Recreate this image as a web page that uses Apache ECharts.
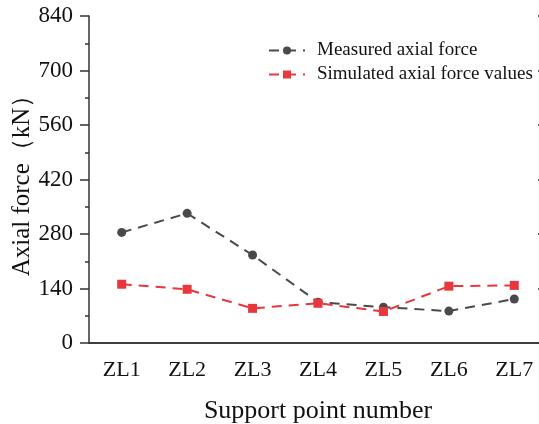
<!DOCTYPE html>
<html>
<head>
<meta charset="utf-8">
<script src="https://cdn.jsdelivr.net/npm/echarts@6/dist/echarts.min.js"></script>
<style>html,body{margin:0;padding:0;background:#fff}#c{width:539px;height:424px}</style>
</head>
<body>
<div id="c"></div>
<script>
var categories = ['ZL1','ZL2','ZL3','ZL4','ZL5','ZL6','ZL7'];
var measured = [284, 333, 226, 105, 92, 82, 113];
var simulated = [151, 138, 89, 102, 81, 146, 148];
var yTicks = [0, 140, 280, 420, 560, 700, 840];
var seriesNames = ['Measured axial force', 'Simulated axial force values'];

var font = 'Liberation Serif, Times New Roman, serif';
var axisColor = '#333';
var chart = echarts.init(document.getElementById('c'));
chart.setOption({
  animation: false,
  grid: {left: 89, top: 16, right: -8, bottom: 81, containLabel: false, outerBoundsMode: 'none'},
  legend: {
    orient: 'vertical', left: 263, top: 36,
    itemWidth: 36, itemHeight: 10, itemGap: 5,
    textStyle: {fontFamily: font, fontSize: 19, color: '#111', padding: [0, 0, 0, 7]},
    data: seriesNames
  },
  xAxis: [{
    type: 'category', data: categories, position: 'bottom',
    name: 'Support point number', nameLocation: 'middle', nameGap: 55, nameMoveOverlap: false,
    nameTextStyle: {fontFamily: font, fontSize: 26, color: '#111'},
    axisLine: {lineStyle: {color: axisColor, width: 1.5}},
    axisTick: {alignWithLabel: true, length: 6, lineStyle: {color: axisColor, width: 1.5}},
    axisLabel: {fontFamily: font, fontSize: 22, color: '#111', margin: 16}
  }, {
    type: 'category', data: categories, position: 'top',
    axisLine: {lineStyle: {color: axisColor, width: 1.5}},
    axisTick: {inside: true, alignWithLabel: true, length: 8, lineStyle: {color: axisColor, width: 1.5}},
    axisLabel: {show: false}
  }],
  yAxis: [{
    type: 'value', min: yTicks[0], max: yTicks[yTicks.length-1], interval: 140,
    name: 'Axial force（kN）', nameLocation: 'middle', nameGap: 54, nameRotate: 90, nameMoveOverlap: false,
    nameTextStyle: {fontFamily: font, fontSize: 25, color: '#111'},
    axisLine: {show: true, lineStyle: {color: axisColor, width: 1.5}},
    axisTick: {show: true, length: 9, lineStyle: {color: axisColor, width: 1.5}},
    minorTick: {show: true, splitNumber: 2, length: 4, lineStyle: {color: axisColor, width: 1.5}},
    splitLine: {show: false},
    axisLabel: {fontFamily: font, fontSize: 23, color: '#111', margin: 16}
  }, {
    type: 'value', min: yTicks[0], max: yTicks[yTicks.length-1], interval: 140, position: 'right',
    axisLine: {show: true, lineStyle: {color: axisColor, width: 1.5}},
    axisTick: {show: true, inside: true, length: 9, lineStyle: {color: axisColor, width: 1.5}},
    splitLine: {show: false},
    axisLabel: {show: false}
  }],
  series: [{
    name: seriesNames[0], type: 'line', data: measured,
    symbol: 'circle', symbolSize: 9,
    itemStyle: {color: '#4a4a4a'},
    lineStyle: {color: '#4a4a4a', width: 2, type: [10, 7]}
  }, {
    name: seriesNames[1], type: 'line', data: simulated,
    symbol: 'rect', symbolSize: 9,
    itemStyle: {color: '#e8383d'},
    lineStyle: {color: '#e8383d', width: 2, type: [10, 7]}
  }]
});
</script>
</body>
</html>
